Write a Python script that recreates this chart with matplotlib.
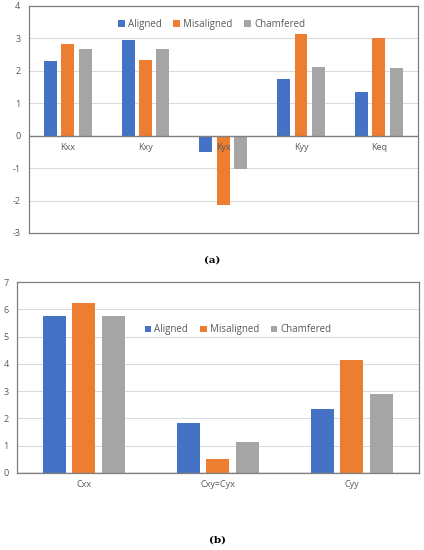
import matplotlib
matplotlib.use("Agg")
import matplotlib.pyplot as plt
import matplotlib.transforms as mtransforms
import numpy as np

series = ["Aligned", "Misaligned", "Chamfered"]
colors = ["#4472C4", "#ED7D31", "#A5A5A5"]

k_categories = ["Kxx", "Kxy", "Kyx", "Kyy", "Keq"]
k_aligned = [2.31, 2.96, -0.50, 1.75, 1.33]
k_misaligned = [2.83, 2.34, -2.14, 3.13, 3.00]
k_chamfered = [2.68, 2.68, -1.04, 2.12, 2.08]

c_categories = ["Cxx", "Cxy=Cyx", "Cyy"]
c_aligned = [5.76, 1.85, 2.34]
c_misaligned = [6.24, 0.50, 4.13]
c_chamfered = [5.77, 1.13, 2.91]

k_ticks = [-3, -2, -1, 0, 1, 2, 3, 4]
c_ticks = [0, 1, 2, 3, 4, 5, 6, 7]

plt.rcParams['font.family'] = ['Open Sans', 'DejaVu Sans']

fig = plt.figure(figsize=(4.24, 5.5), dpi=100)


def draw(ax, cats, vals, ticks, width, pitch, legend_anchor):
    x = np.arange(len(cats))
    for i, (v, c, s) in enumerate(zip(vals, colors, series)):
        ax.bar(x + (i - 1) * pitch, v, width, color=c, label=s, zorder=3)
    ax.set_xlim(-0.5, len(cats) - 0.5)
    ax.set_ylim(ticks[0], ticks[-1])
    ax.set_yticks(ticks)
    ax.set_yticklabels([str(t) for t in ticks])
    ax.tick_params(axis='y', length=0, labelsize=6.5, labelcolor='#595959', pad=6)
    ax.set_xticks([])
    ax.yaxis.grid(True, color='#D9D9D9', linewidth=0.7, zorder=0)
    ax.set_axisbelow(True)
    for sp in ax.spines.values():
        sp.set_color('#7F7F7F')
        sp.set_linewidth(0.9)
    ax.axhline(0, color='#7F7F7F', linewidth=1.0, zorder=4)
    off = mtransforms.ScaledTranslation(0, -5 / 72, fig.dpi_scale_trans)
    for xi, cat in zip(x, cats):
        ax.text(xi, 0, cat, ha='center', va='top', fontsize=6.5, color='#595959',
                transform=ax.transData + off, zorder=5)
    ax.legend(loc='center', bbox_to_anchor=legend_anchor, ncol=3, frameon=False,
              fontsize=7, handlelength=0.7, handleheight=0.7, handletextpad=0.3,
              columnspacing=1.2, labelcolor='#595959')
    return ax


ax1 = fig.add_axes([0.068, 0.5764, 0.917, 0.413])
draw(ax1, k_categories, [k_aligned, k_misaligned, k_chamfered], k_ticks, 0.167, 0.223, (0.47, 0.92))
ax2 = fig.add_axes([0.040, 0.14, 0.948, 0.347])
draw(ax2, c_categories, [c_aligned, c_misaligned, c_chamfered], c_ticks, 0.172, 0.222, (0.55, 0.75))

fig.text(212 / 424, 1 - 260 / 550, "(a)", ha='center', va='center', fontsize=7.5,
         fontweight='bold', family='DejaVu Serif')
fig.text(217 / 424, 1 - 540 / 550, "(b)", ha='center', va='center', fontsize=7.5,
         fontweight='bold', family='DejaVu Serif')

fig.savefig("out.png", dpi=100)
